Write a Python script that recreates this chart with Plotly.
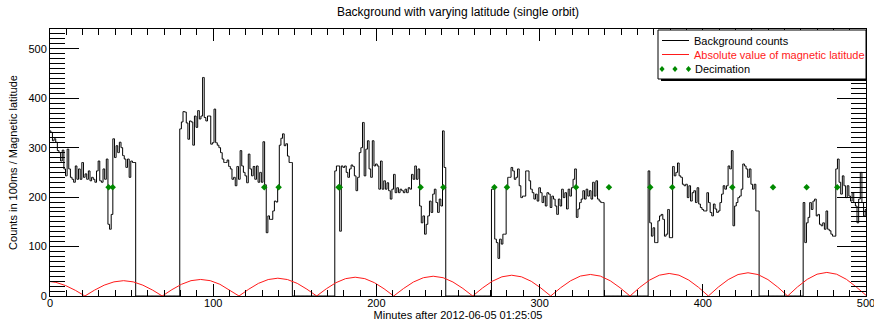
import plotly.graph_objects as go

# ---------------- data ----------------
# background counts per minute, one list per orbit segment (zero between segments)
seg_starts = [0, 80, 175, 271, 367, 462]
seg1_counts = [334, 331, 314, 318, 311, 294, 290, 273, 295, 257, 243, 297, 257, 240, 236, 230, 263, 236,
               257, 236, 270, 240, 247, 236, 253, 233, 240, 236, 230, 253, 273, 233, 230, 257, 236, 277,
               145, 135, 165, 318, 280, 304, 290, 311, 300, 284, 277, 260, 277, 240, 273, 270, 270]
seg2_counts = [338, 352, 373, 372, 350, 317, 354, 352, 305, 364, 341, 375, 358, 364, 442, 361, 354, 364,
               364, 307, 310, 378, 310, 305, 300, 290, 277, 270, 270, 275, 262, 257, 236, 240, 223, 262,
               236, 294, 263, 250, 243, 229, 287, 257, 243, 262, 236, 263, 230, 250, 230, 312, 225, 128,
               162, 155, 155, 172, 192, 190, 219, 305, 319, 328, 304, 308, 283, 270, 270]
seg3_counts = [253, 263, 263, 131, 263, 260, 263, 250, 240, 257, 265, 262, 243, 213, 240, 290, 300, 351,
               243, 297, 314, 257, 240, 314, 263, 267, 263, 216, 273, 216, 233, 216, 229, 213, 196, 216,
               246, 209, 219, 209, 216, 213, 209, 216, 209, 219, 216, 246, 236, 263, 236, 257, 182, 148,
               162, 125, 145, 162, 192, 169, 206, 216, 189, 169, 196, 182, 334, 260]
seg4_counts = [216, 216, 115, 108, 76, 115, 105, 125, 125, 219, 240, 240, 260, 253, 236, 240, 257, 223,
               199, 202, 202, 253, 253, 233, 216, 209, 196, 206, 192, 219, 209, 189, 202, 182, 209, 206,
               179, 202, 196, 182, 165, 196, 182, 216, 199, 209, 176, 216, 202, 219, 236, 257, 159, 176,
               189, 196, 213, 196, 216, 202, 213, 196, 230, 202, 233, 196, 192, 189, 189]
seg5_counts = [253, 148, 121, 138, 108, 108, 152, 162, 165, 155, 121, 125, 175, 118, 118,
               262, 243, 250, 269, 243, 240, 226, 223, 226, 199, 223, 192, 209, 213, 189, 219, 186,
               179, 175, 172, 172, 209, 189, 169, 162, 186, 176, 169, 172, 189, 206, 223, 216, 223,
               263, 257, 294, 142, 182, 189, 199, 202, 216, 267, 263, 257, 240, 257, 226, 216, 226,
               172, 172]
seg6_counts = [189, 108, 148, 159, 189, 175, 192, 196, 162, 165, 145, 142, 148, 135, 172, 135, 132, 125,
               121, 121, 257, 277, 230, 206, 243, 223, 199, 223, 202, 192, 209, 189, 182, 148, 196, 250,
               189, 162, 175]
segments = [seg1_counts, seg2_counts, seg3_counts, seg4_counts, seg5_counts, seg6_counts]

# absolute value of magnetic latitude
lat_minutes = [0, 3.6, 9.5, 15.5, 21.4,
               27.3, 33.2, 39.2, 45.1, 51.0, 56.9, 62.9, 68.8,
               74.7, 80.6, 86.4, 92.3, 98.2, 104.1, 109.9, 115.8,
               121.8, 127.7, 133.7, 139.6, 145.5, 151.5, 157.4, 163.4,
               169.3, 175.2, 181.1, 187.0, 192.9, 198.8, 204.7, 210.6,
               216.7, 222.7, 228.8, 234.8, 240.9, 246.9, 253.0, 259.0,
               265.0, 270.9, 276.9, 282.9, 288.9, 294.9, 300.8, 306.8,
               312.9, 319.0, 325.0, 331.1, 337.2, 343.3, 349.3, 355.4,
               361.4, 367.4, 373.4, 379.4, 385.4, 391.4, 397.4, 403.4,
               409.5, 415.6, 421.6, 427.7, 433.8, 439.9, 445.9, 452.0,
               458.0, 464.0, 470.0, 476.0, 482.0, 488.0, 494.0, 500.0]
lat_values = [29.2, 27.6, 21.2, 11.5, 0,
              11.9, 21.9, 28.6, 31.0, 28.6, 21.9, 11.9, 0,
              12.8, 23.7, 31.0, 33.5, 31.0, 23.7, 12.8, 0,
              13.8, 25.5, 33.3, 36.0, 33.3, 25.5, 13.8, 0,
              14.6, 26.9, 35.1, 38.0, 35.1, 26.9, 14.6, 0,
              15.3, 28.3, 37.0, 40.0, 37.0, 28.3, 15.3, 0,
              16.1, 29.7, 38.8, 42.0, 38.8, 29.7, 16.1, 0,
              16.7, 30.8, 40.3, 43.6, 40.3, 30.8, 16.7, 0,
              17.5, 32.2, 42.1, 45.6, 42.1, 32.2, 17.5, 0,
              18.0, 33.2, 43.4, 47.0, 43.4, 33.2, 18.0, 0,
              18.3, 33.7, 44.1, 47.7, 44.1, 33.7, 18.3, 1.5]

# decimation markers
dec_minutes = [35.9, 38.4, 131.3, 140.1, 176.8, 177.6, 227.1, 241.0, 272.3, 280.0,
               322.3, 342.5, 367.8, 381.3, 418.1, 443.0, 463.6, 482.4]
dec_values = [220] * len(dec_minutes)

x_ticks = [0, 100, 200, 300, 400, 500]
y_ticks = [0, 100, 200, 300, 400, 500]

# build the per-minute series
minutes = list(range(0, 501))
counts = [0] * len(minutes)
for start, vals in zip(seg_starts, segments):
    for i, v in enumerate(vals):
        if start + i < len(counts):
            counts[start + i] = v

FONT = "Liberation Sans, Arial, Helvetica, sans-serif"
GREEN = "#008a00"
RED = "#ff1a1a"

fig = go.Figure()
fig.add_trace(go.Scatter(x=minutes, y=counts, mode="lines", line=dict(color="black", width=1, shape="hvh"),
                         name="Background counts", hoverinfo="skip"))
fig.add_trace(go.Scatter(x=lat_minutes, y=lat_values, mode="lines", line=dict(color=RED, width=1),
                         name="Absolute value of magnetic latitude", hoverinfo="skip"))
fig.add_trace(go.Scatter(x=dec_minutes, y=dec_values, mode="markers",
                         marker=dict(symbol="diamond", size=5, color=GREEN, line=dict(width=0)),
                         name="Decimation", hoverinfo="skip"))

# ---------------- layout ----------------
L, R, T, B = 50, 8, 29, 25
W, H = 874, 321
PW, PH = W - L - R, H - T - B


def px(x):
    return (x - L) / PW


def py(y):
    return (H - B - y) / PH


shapes = []
# legend shadow + box
shapes.append(dict(type="rect", xref="paper", yref="paper", x0=px(661), x1=px(866), y0=py(81), y1=py(32),
                   fillcolor="black", line=dict(width=0), layer="above"))
shapes.append(dict(type="rect", xref="paper", yref="paper", x0=px(658), x1=px(866), y0=py(79), y1=py(30),
                   fillcolor="white", line=dict(color="black", width=1), layer="above"))
shapes.append(dict(type="line", xref="paper", yref="paper", x0=px(662), x1=px(689), y0=py(40.5), y1=py(40.5),
                   line=dict(color="black", width=1), layer="above"))
shapes.append(dict(type="line", xref="paper", yref="paper", x0=px(662), x1=px(689), y0=py(54.5), y1=py(54.5),
                   line=dict(color=RED, width=1), layer="above"))
for cx in [662, 675, 688.5]:
    cy = 69.0
    hw, hh = 2.6, 3.0
    path = "M {a},{b} L {c},{d} L {e},{f} L {g},{h} Z".format(
        a=px(cx), b=py(cy - hh), c=px(cx + hw), d=py(cy), e=px(cx), f=py(cy + hh), g=px(cx - hw), h=py(cy))
    shapes.append(dict(type="path", xref="paper", yref="paper", path=path, fillcolor=GREEN,
                       line=dict(width=0), layer="above"))

annotations = [
    dict(text="Background counts", x=px(692), y=py(40.5), color="black"),
    dict(text="Absolute value of magnetic latitude", x=px(692), y=py(54.5), color=RED),
    dict(text="Decimation", x=px(692.5), y=py(69), color="black"),
]
annotations = [dict(text=a["text"], xref="paper", yref="paper", x=a["x"], y=a["y"], xanchor="left",
                    yanchor="middle", showarrow=False, font=dict(family=FONT, size=11, color=a["color"]))
               for a in annotations]

axis_common = dict(showline=True, linecolor="black", linewidth=1, mirror="ticks", ticks="inside",
                   tickcolor="black", tickwidth=1, showgrid=False, zeroline=False,
                   tickfont=dict(family=FONT, size=11, color="black"))

fig.update_layout(
    width=W, height=H, margin=dict(l=L, r=R, t=T, b=B, autoexpand=False),
    paper_bgcolor="white", plot_bgcolor="white", showlegend=False,
    font=dict(family=FONT, size=11, color="black"),
    title=dict(text="Background with varying latitude (single orbit)", x=0.5, xref="paper", xanchor="center",
               y=1 - 12 / H, yref="container", yanchor="middle", font=dict(family=FONT, size=12, color="black")),
    xaxis=dict(range=[0, 500], tickvals=x_ticks, ticklen=12, ticklabeloverflow="allow", ticklabelstandoff=-3,
               minor=dict(dtick=10, tick0=0, ticklen=6, ticks="inside", tickcolor="black", showgrid=False),
               title=dict(text="Minutes after 2012-06-05 01:25:05", standoff=5,
                          font=dict(family=FONT, size=11, color="black")),
               automargin=False, **axis_common),
    yaxis=dict(range=[0, 540], tickvals=y_ticks, ticklen=29,
               minor=dict(dtick=10, tick0=0, ticklen=15, ticks="inside", tickcolor="black", showgrid=False),
               title=dict(text="Counts in 100ms / Magnetic latitude", standoff=8,
                          font=dict(family=FONT, size=11, color="black")),
               automargin=False, **axis_common),
    shapes=shapes, annotations=annotations,
)

fig.write_html("out.html")
